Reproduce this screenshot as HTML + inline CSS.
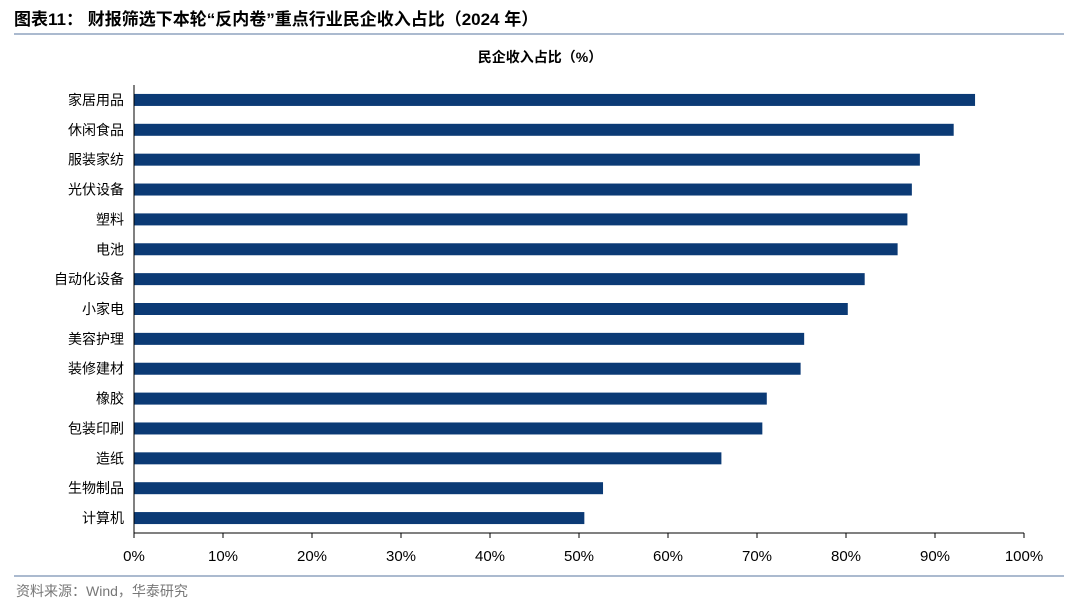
<!DOCTYPE html>
<html><head><meta charset="utf-8"><style>
body{margin:0;background:#fff;width:1080px;height:609px;overflow:hidden;font-family:"Liberation Sans","Noto Sans CJK SC",sans-serif}
</style></head><body>
<svg id="c" width="1080" height="609" xmlns="http://www.w3.org/2000/svg">
<text x="14" y="25" font-size="17" font-weight="bold" fill="#000" font-family="Liberation Sans,Noto Sans CJK SC,sans-serif">图表11：  财报筛选下本轮“反内卷”重点行业民企收入占比（2024 年）</text>
<line x1="14" y1="34" x2="1064" y2="34" stroke="#8fa3bf" stroke-width="1.5"/>
<text x="540" y="62" font-size="14" font-weight="bold" text-anchor="middle" font-family="Liberation Sans,Noto Sans CJK SC,sans-serif">民企收入占比（%）</text>
<g id="plot"></g>
<line x1="14" y1="576" x2="1064" y2="576" stroke="#8fa3bf" stroke-width="1.5"/>
<text x="16" y="596" font-size="14" fill="#777" font-family="Liberation Sans,Noto Sans CJK SC,sans-serif">资料来源：Wind，华泰研究</text>
</svg>
<script>
const categories=["家居用品","休闲食品","服装家纺","光伏设备","塑料","电池","自动化设备","小家电","美容护理","装修建材","橡胶","包装印刷","造纸","生物制品","计算机"];
const values=[94.5,92.1,88.3,87.4,86.9,85.8,82.1,80.2,75.3,74.9,71.1,70.6,66.0,52.7,50.6];
const ticks=[0,10,20,30,40,50,60,70,80,90,100];
const NS="http://www.w3.org/2000/svg",g=document.getElementById('plot');
const x0=134,x1=1024,yTop=85,yBot=533;
const xs=v=>x0+(x1-x0)*v/100;
const step=(yBot-yTop)/categories.length;
const ys=i=>yTop+step*(i+0.5);
function mk(t,a){const e=document.createElementNS(NS,t);for(const k in a)e.setAttribute(k,a[k]);g.appendChild(e);return e;}
categories.forEach((c,i)=>{
 const r=mk('rect',{x:xs(0),y:ys(i)-6,width:xs(values[i])-xs(0),height:12,fill:'#0b3a75'});
 
 
 const t=mk('text',{x:x0-10,y:ys(i)+5,'font-size':14,'text-anchor':'end','font-family':'Liberation Sans,Noto Sans CJK SC,sans-serif'});
 t.textContent=c;
 
 
});
const ax=mk('line',{x1:x0,y1:yTop,x2:x0,y2:yBot,stroke:'#000','stroke-width':1});


const bx=mk('line',{x1:x0,y1:yBot,x2:x1,y2:yBot,stroke:'#000','stroke-width':1});


ticks.forEach(v=>{
 const l=mk('line',{x1:xs(v),y1:yBot,x2:xs(v),y2:yBot+5,stroke:'#000'});
 
 
 const t=mk('text',{x:xs(v),y:yBot+28,'font-size':15,'text-anchor':'middle'});
 t.textContent=v+'%';
 
 
});
</script>
</body></html>
